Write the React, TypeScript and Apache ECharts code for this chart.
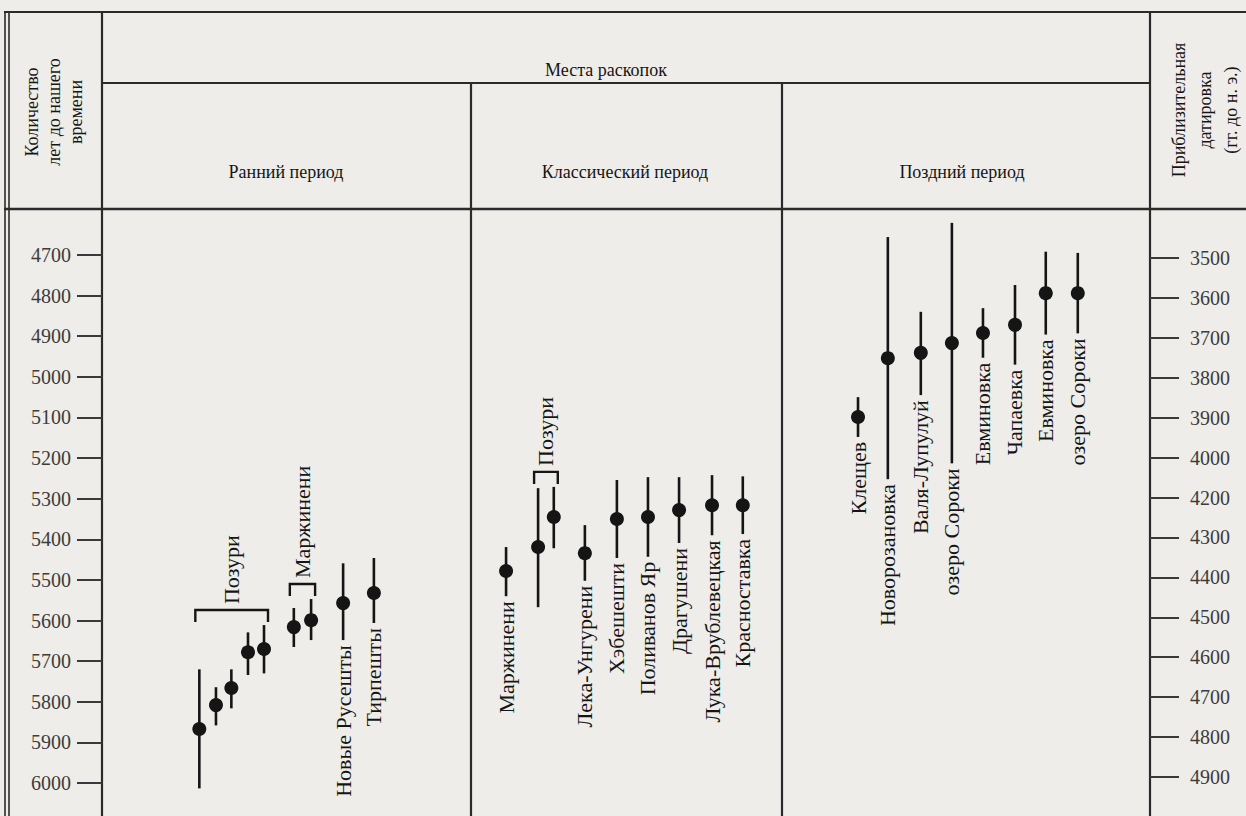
import React, { useEffect, useRef } from "react";
import * as echarts from "echarts";

// ---- tick labels ----
const leftTicks = [4700, 4800, 4900, 5000, 5100, 5200, 5300, 5400, 5500, 5600, 5700, 5800, 5900, 6000];
const rightTickLabels = ["3500", "3600", "3700", "3800", "3900", "4000", "4200", "4300", "4400", "4500", "4600", "4700", "4800", "4900"];

// ---- headers ----
const mainHeader = "Места раскопок";
const periodNames = ["Ранний период", "Классический период", "Поздний период"];
const leftHeader = "Количество\nлет до нашего\nвремени";
const rightHeader = "Приблизительная\nдатировка\n(гг. до н. э.)";

// ---- early period ----
const earlyNames = ["", "", "", "", "", "", "", "Новые Русешты", "Тирпешты"];
const earlyX = [3.1, 3.63, 4.12, 4.65, 5.16, 6.11, 6.66, 7.68, 8.66];
const earlyMid = [5867, 5808, 5766, 5678, 5670, 5616, 5599, 5557, 5532];
const earlyLow = [5720, 5764, 5720, 5629, 5611, 5569, 5547, 5459, 5446];
const earlyHigh = [6013, 5858, 5816, 5734, 5730, 5665, 5648, 5648, 5606];

// ---- classical period ----
const classNames = ["Маржинени", "", "", "Лека-Унгурени", "Хэбешешти", "Поливанов Яр", "Драгушени", "Лука-Врублевецкая", "Красноставка"];
const classX = [12.87, 13.89, 14.39, 15.38, 16.4, 17.39, 18.38, 19.43, 20.41];
const classMid = [5478, 5419, 5345, 5434, 5350, 5345, 5328, 5316, 5316];
const classLow = [5419, 5274, 5271, 5365, 5254, 5247, 5247, 5242, 5245];
const classHigh = [5540, 5567, 5422, 5502, 5446, 5443, 5409, 5390, 5387];

// ---- late period ----
const lateNames = ["Клещев", "Новорозановка", "Валя-Лупулуй", "озеро Сороки", "Евминовка", "Чапаевка", "Евминовка", "озеро Сороки"];
const lateX = [24.08, 25.03, 26.08, 27.07, 28.06, 29.08, 30.06, 31.08];
const lateMid = [5099, 4954, 4941, 4917, 4892, 4872, 4794, 4794];
const lateLow = [5050, 4656, 4840, 4621, 4831, 4774, 4692, 4695];
const lateHigh = [5148, 5252, 5045, 5213, 4953, 4970, 4896, 4893];

// ---- brackets (indices into the combined list) ----
const bracketLabels = ["Позури", "Маржинени", "Позури"];
const bracketMembers = [[0, 1, 2, 3, 4], [5, 6], [10, 11]];

const allNames = [...earlyNames, ...classNames, ...lateNames];
const allX = [...earlyX, ...classX, ...lateX];
const allMid = [...earlyMid, ...classMid, ...lateMid];
const allLow = [...earlyLow, ...classLow, ...lateLow];
const allHigh = [...earlyHigh, ...classHigh, ...lateHigh];

const SERIF = "'Liberation Serif', 'DejaVu Serif', serif";
const INK = "#151515";
const LINE = "#2b2b2b";

export default function App() {
  const ref = useRef<HTMLDivElement>(null);
  useEffect(() => {
    document.body.style.margin = "0";
    const chart = echarts.init(ref.current!, null, { renderer: "svg" });

    const pointData = allX.map((x, i) => [x, allMid[i], allLow[i], allHigh[i]]);
    const bracketData = bracketMembers.map((m) => {
      const xs = m.map((i) => allX[i]);
      const lows = m.map((i) => allLow[i]);
      return [Math.min(...xs), Math.max(...xs), Math.min(...lows)];
    });

    const hLine = (x1: number, x2: number, y: number, w = 2) => ({
      type: "line", shape: { x1, y1: y, x2, y2: y }, style: { stroke: LINE, lineWidth: w }, silent: true,
    });
    const vLine = (x: number, y1: number, y2: number, w = 2) => ({
      type: "line", shape: { x1: x, y1, x2: x, y2 }, style: { stroke: LINE, lineWidth: w }, silent: true,
    });
    const txt = (text: string, x: number, y: number, size: number, rot = 0, lh = 0) => ({
      type: "text", x, y, rotation: rot, silent: true,
      style: { text, x: 0, y: 0, align: "center", verticalAlign: "middle", font: `${size}px ${SERIF}`, fill: INK, lineHeight: lh || size * 1.3 },
    });

    const option: any = {
      animation: false,
      backgroundColor: "#eeede9",
      grid: { left: 102, right: 96, top: 207, bottom: 0, containLabel: false },
      xAxis: { type: "value", min: 0, max: 33.38, show: false },
      yAxis: [
        {
          type: "value", inverse: true, min: 4582, max: 6081, position: "left",
          axisLine: { show: false }, splitLine: { show: false },
          axisTick: { show: true, length: 25, customValues: leftTicks, lineStyle: { color: "#3a3a3a", width: 2 } },
          axisLabel: {
            customValues: leftTicks, margin: 31, fontFamily: SERIF, fontSize: 20, color: "#3c3c3c",
            formatter: (v: number) => String(v),
          },
        },
        {
          type: "value", inverse: true, min: -1.2775, max: 13.978, position: "right",
          axisLine: { show: false }, splitLine: { show: false },
          axisTick: { show: true, length: 29, customValues: rightTickLabels.map((_, i) => i), lineStyle: { color: "#3a3a3a", width: 2 } },
          axisLabel: {
            customValues: rightTickLabels.map((_, i) => i), margin: 40, fontFamily: SERIF, fontSize: 20, color: "#3c3c3c",
            formatter: (v: number) => rightTickLabels[Math.round(v)] ?? "",
          },
        },
      ],
      series: [
        {
          type: "custom", xAxisIndex: 0, yAxisIndex: 0, data: pointData,
          renderItem: (params: any, api: any) => {
            const x = api.value(0);
            const pM = api.coord([x, api.value(1)]);
            const pL = api.coord([x, api.value(2)]);
            const pH = api.coord([x, api.value(3)]);
            const name = allNames[params.dataIndex];
            const children: any[] = [
              { type: "line", shape: { x1: pL[0], y1: pL[1], x2: pH[0], y2: pH[1] }, style: { stroke: INK, lineWidth: 2.6 } },
              { type: "circle", shape: { cx: pM[0], cy: pM[1], r: 7 }, style: { fill: INK } },
            ];
            if (name) {
              children.push({
                type: "text", x: pH[0], y: pH[1] + 5, rotation: Math.PI / 2,
                style: { text: name, x: 0, y: 0, align: "right", verticalAlign: "middle", font: `22px ${SERIF}`, fill: INK },
              });
            }
            return { type: "group", children };
          },
        },
        {
          type: "custom", xAxisIndex: 0, yAxisIndex: 0, data: bracketData,
          renderItem: (params: any, api: any) => {
            const a = api.coord([api.value(0), api.value(2)]);
            const b = api.coord([api.value(1), api.value(2)]);
            const pad = 4, up = 15, tip = 12;
            const y = a[1] - up;
            const x1 = a[0] - pad, x2 = b[0] + pad;
            return {
              type: "group",
              children: [
                { type: "polyline", shape: { points: [[x1, y + tip], [x1, y], [x2, y], [x2, y + tip]] }, style: { stroke: INK, lineWidth: 2.4, fill: "none" } },
                {
                  type: "text", x: (x1 + x2) / 2, y: y - 6, rotation: Math.PI / 2,
                  style: { text: bracketLabels[params.dataIndex], x: 0, y: 0, align: "left", verticalAlign: "middle", font: `22px ${SERIF}`, fill: INK },
                },
              ],
            };
          },
        },
      ],
      graphic: [
        hLine(4, 1246, 12, 2.2),
        hLine(102, 1150, 83, 2.2),
        hLine(4, 1246, 209, 2.6),
        vLine(5, 12, 816, 1.6),
        vLine(9, 12, 816, 1.6),
        vLine(102, 12, 816, 2.2),
        vLine(1150, 12, 816, 2.2),
        vLine(471, 83, 816, 2.2),
        vLine(782, 83, 816, 2.2),
        txt(mainHeader, 606, 70, 18),
        txt(periodNames[0], 286, 172, 18),
        txt(periodNames[1], 625, 172, 18),
        txt(periodNames[2], 962, 172, 18),
        txt(leftHeader, 54, 112, 18, Math.PI / 2, 22),
        txt(rightHeader, 1205, 110, 18, Math.PI / 2, 26),
      ],
    };
    chart.setOption(option);
    return () => chart.dispose();
  }, []);
  return <div ref={ref} style={{ width: 1246, height: 816 }} />;
}
